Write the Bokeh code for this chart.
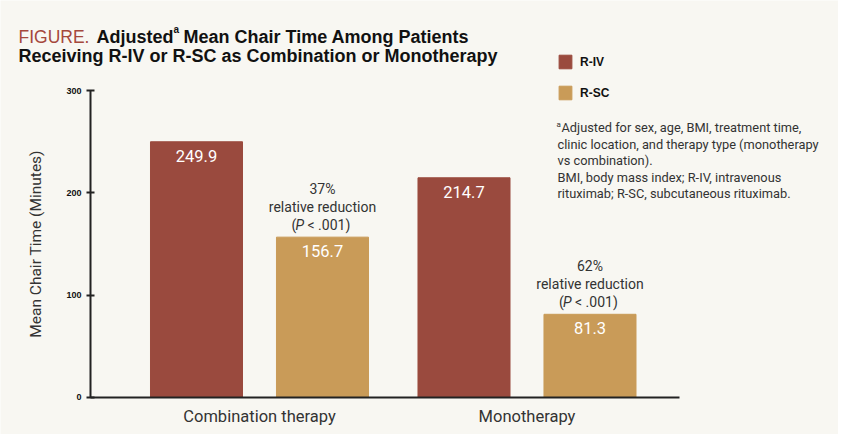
from bokeh.plotting import figure
from bokeh.models import (ColumnDataSource, Range1d, FixedTicker, Label, Legend, LegendItem)
from bokeh.transform import dodge
from bokeh.core.properties import value
from bokeh.embed import file_html
from bokeh.resources import INLINE

# ---- data ----
categories = ["Combination therapy", "Monotherapy"]
series = ["R-IV", "R-SC"]
r_iv = [249.9, 214.7]
r_sc = [156.7, 81.3]
reductions = ["37%", "62%"]
reduction_label = "relative reduction"
p_values = ["< .001)", "< .001)"]
y_ticks = [0, 100, 200, 300]
note_lines = [
    "Adjusted for sex, age, BMI, treatment time,",
    "clinic location, and therapy type (monotherapy",
    "vs combination).",
    "BMI, body mass index; R-IV, intravenous",
    "rituximab; R-SC, subcutaneous rituximab.",
]

# ---- style / layout ----
BG = "#f8f7f2"
C_IV = "#9a4a3e"
C_SC = "#c99b58"
TXT = "#333333"
FONT = "Roboto"
W_FIG, H_FIG = 838, 434

X0, X1 = -0.9682, 2.1645          # full-canvas x range
Y0, Y1 = -36.16, 387.95            # full-canvas y range
AX_X = -0.6318                     # where the y axis stands
AX_XEND = 1.5701                   # end of x axis line

xs = list(range(len(categories)))
src = ColumnDataSource(dict(
    x=xs,
    r_iv=r_iv,
    r_sc=r_sc,
    iv_lbl=[f"{v:.1f}" for v in r_iv],
    sc_lbl=[f"{v:.1f}" for v in r_sc],
    red=reductions,
    rel=[reduction_label] * len(xs),
    pv=p_values,
    po=["("] * len(xs),
    pp=["P"] * len(xs),
))

p = figure(width=W_FIG, height=H_FIG, output_backend="svg", toolbar_location=None,
           x_range=Range1d(X0, X1), y_range=Range1d(Y0, Y1), min_border=0)
p.title.visible = False
p.background_fill_color = BG
p.border_fill_color = BG
p.outline_line_color = None
p.grid.visible = False

OFF = 0.2355
W = 0.344
r1 = p.vbar(x=dodge("x", -OFF, range=p.x_range), top="r_iv", width=W, bottom=0,
            source=src, fill_color=C_IV, line_color=C_IV)
r2 = p.vbar(x=dodge("x", OFF, range=p.x_range), top="r_sc", width=W, bottom=0,
            source=src, fill_color=C_SC, line_color=C_SC)

# value labels inside bars
for col, off, top in [("iv_lbl", -OFF, "r_iv"), ("sc_lbl", OFF, "r_sc")]:
    p.text(x=dodge("x", off, range=p.x_range), y=top, text=col, source=src,
           text_color="white", text_font=value(FONT), text_font_size="16.5px",
           text_align="center", text_baseline="middle", y_offset=14)

# reduction annotations above R-SC bars
ann_kw = dict(source=src, text_color=TXT, text_font=value(FONT),
              text_font_size="14px", text_baseline="middle")
p.text(x=dodge("x", OFF, range=p.x_range), y="r_sc", text="red",
       text_align="center", y_offset=-48, **ann_kw)
p.text(x=dodge("x", OFF, range=p.x_range), y="r_sc", text="rel",
       text_align="center", y_offset=-30, **ann_kw)
p.text(x=dodge("x", OFF, range=p.x_range), y="r_sc", text="po",
       text_align="left", x_offset=-31, y_offset=-12.5, **ann_kw)
p.text(x=dodge("x", OFF, range=p.x_range), y="r_sc", text="pp",
       text_align="left", x_offset=-27, y_offset=-12.5, text_font_style="italic",
       **ann_kw)
p.text(x=dodge("x", OFF, range=p.x_range), y="r_sc", text="pv",
       text_align="left", x_offset=-15, y_offset=-12.5, **ann_kw)

# axes (placed inside the full-canvas frame)
ya = p.yaxis[0]
ya.fixed_location = AX_X
ya.bounds = (y_ticks[0], y_ticks[-1])
ya.ticker = FixedTicker(ticks=y_ticks)
ya.minor_tick_line_color = None
ya.axis_line_width = 2
ya.axis_line_color = "#222222"
ya.major_tick_line_width = 2
ya.major_tick_line_color = "#222222"
ya.major_tick_in = 4
ya.major_tick_out = 4
ya.major_label_text_font = "Liberation Sans"
ya.major_label_text_font_style = "bold"
ya.major_label_text_font_size = "9px"
ya.major_label_text_color = "#111111"
ya.major_label_standoff = 5
ya.axis_label = "Mean Chair Time (Minutes)"
ya.axis_label_text_font = FONT
ya.axis_label_text_font_style = "normal"
ya.axis_label_text_font_size = "15.5px"
ya.axis_label_text_color = TXT
ya.axis_label_standoff = 18

xa = p.xaxis[0]
xa.fixed_location = 0
xa.bounds = (AX_X, AX_XEND)
xa.ticker = FixedTicker(ticks=xs)
xa.major_label_overrides = {i: c for i, c in enumerate(categories)}
xa.major_tick_line_color = None
xa.major_tick_in = 0
xa.major_tick_out = 0
xa.minor_tick_line_color = None
xa.axis_line_width = 2
xa.axis_line_color = "#222222"
xa.major_label_text_font = FONT
xa.major_label_text_font_size = "16.5px"
xa.major_label_text_color = TXT
xa.major_label_standoff = 10


def lab(X, Y, text, size, style="normal", color="#111111", font="Liberation Sans"):
    p.add_layout(Label(x=X, y=H_FIG - Y, x_units="screen", y_units="screen",
                       text=text, text_font=font, text_font_size=size,
                       text_font_style=style, text_color=color,
                       text_align="left", text_baseline="alphabetic"))


# title
lab(18, 36, "FIGURE.", "17.5px", color="#a5483c")
lab(96, 36, "Adjusted", "18px", style="bold")
lab(173, 29, "a", "10px", style="bold")
lab(183, 36, "Mean Chair Time Among Patients", "18px", style="bold")
lab(18, 55, "Receiving R-IV or R-SC as Combination or Monotherapy", "18px", style="bold")

# legend
legend = Legend(items=[LegendItem(label=series[0], renderers=[r1]),
                       LegendItem(label=series[1], renderers=[r2])],
                location=(557, H_FIG - 101), orientation="vertical",
                glyph_width=16, glyph_height=17, label_height=17, spacing=14,
                padding=0, margin=0, label_standoff=7,
                label_text_font="Liberation Sans", label_text_font_style="bold",
                label_text_font_size="12px", label_text_color="#111111",
                border_line_color=None, background_fill_alpha=0)
p.add_layout(legend, "center")

# footnotes
lab(556, 124, "a", "8px", color=TXT, font=FONT)
baselines = [127, 144, 160, 177, 193]
for i, (line, b) in enumerate(zip(note_lines, baselines)):
    lab(561 if i == 0 else 557, b, line, "12.8px", color=TXT, font=FONT)

open("out.html", "w").write(file_html(p, INLINE))
